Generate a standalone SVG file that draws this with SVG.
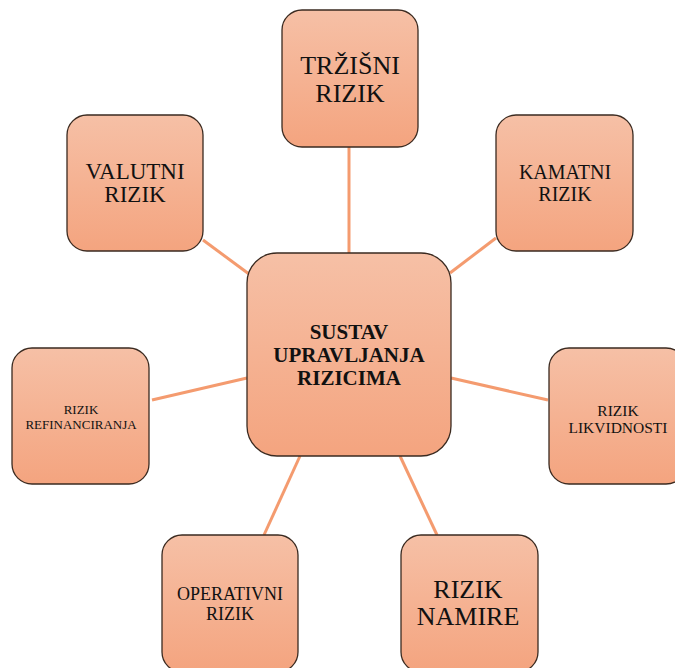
<svg xmlns="http://www.w3.org/2000/svg" width="675" height="668" viewBox="0 0 675 668">
<defs>
<linearGradient id="g" x1="0" y1="0" x2="0" y2="1">
<stop offset="0" stop-color="#F6C0A6"/>
<stop offset="1" stop-color="#F4A47F"/>
</linearGradient>
<style>
.box{fill:url(#g);stroke:#3a2a20;stroke-width:1.3}
.t{font-family:"Liberation Serif","Times New Roman",serif;fill:#111;text-anchor:middle}
.c line{stroke:#F49B6F;stroke-width:3;stroke-linecap:butt}
</style>
</defs>
<rect width="675" height="668" fill="#fff"/>
<g class="c" id="connectors">
<line x1="349" y1="147" x2="349" y2="253"/>
<line x1="203" y1="240" x2="249" y2="274"/>
<line x1="496" y1="238" x2="450" y2="273"/>
<line x1="152" y1="400" x2="247" y2="378"/>
<line x1="451" y1="378" x2="548" y2="400"/>
<line x1="300" y1="456" x2="264" y2="535"/>
<line x1="400" y1="456" x2="437" y2="535"/>
</g>
<g id="center">
<rect class="box" x="247" y="253" width="204" height="203" rx="30"/>
<text class="t" font-size="21" font-weight="bold"><tspan x="349" y="339">SUSTAV</tspan><tspan x="349" y="362">UPRAVLJANJA</tspan><tspan x="349" y="385">RIZICIMA</tspan></text>
</g>
<g id="trzisni">
<rect class="box" x="282" y="10" width="136" height="137" rx="20"/>
<text class="t" font-size="26"><tspan x="350" y="74">TRŽIŠNI</tspan><tspan x="350" y="102">RIZIK</tspan></text>
</g>
<g id="valutni">
<rect class="box" x="67" y="115" width="136" height="136" rx="20"/>
<text class="t" font-size="23"><tspan x="135" y="179">VALUTNI</tspan><tspan x="135" y="202">RIZIK</tspan></text>
</g>
<g id="kamatni">
<rect class="box" x="496" y="115" width="137" height="136" rx="20"/>
<text class="t" font-size="20"><tspan x="565" y="179">KAMATNI</tspan><tspan x="565" y="201">RIZIK</tspan></text>
</g>
<g id="refinanciranja">
<rect class="box" x="12" y="348" width="137" height="136" rx="20"/>
<text class="t" font-size="13"><tspan x="81" y="414">RIZIK</tspan><tspan x="81" y="429">REFINANCIRANJA</tspan></text>
</g>
<g id="likvidnosti">
<rect class="box" x="549" y="348" width="137" height="136" rx="20"/>
<text class="t" font-size="15.5"><tspan x="618" y="416">RIZIK</tspan><tspan x="618" y="433">LIKVIDNOSTI</tspan></text>
</g>
<g id="operativni">
<rect class="box" x="162" y="535" width="136" height="137" rx="20"/>
<text class="t" font-size="18"><tspan x="230" y="600">OPERATIVNI</tspan><tspan x="230" y="620">RIZIK</tspan></text>
</g>
<g id="namire">
<rect class="box" x="401" y="535" width="137" height="137" rx="20"/>
<text class="t" font-size="26"><tspan x="468" y="598">RIZIK</tspan><tspan x="468" y="625">NAMIRE</tspan></text>
</g>
</svg>
